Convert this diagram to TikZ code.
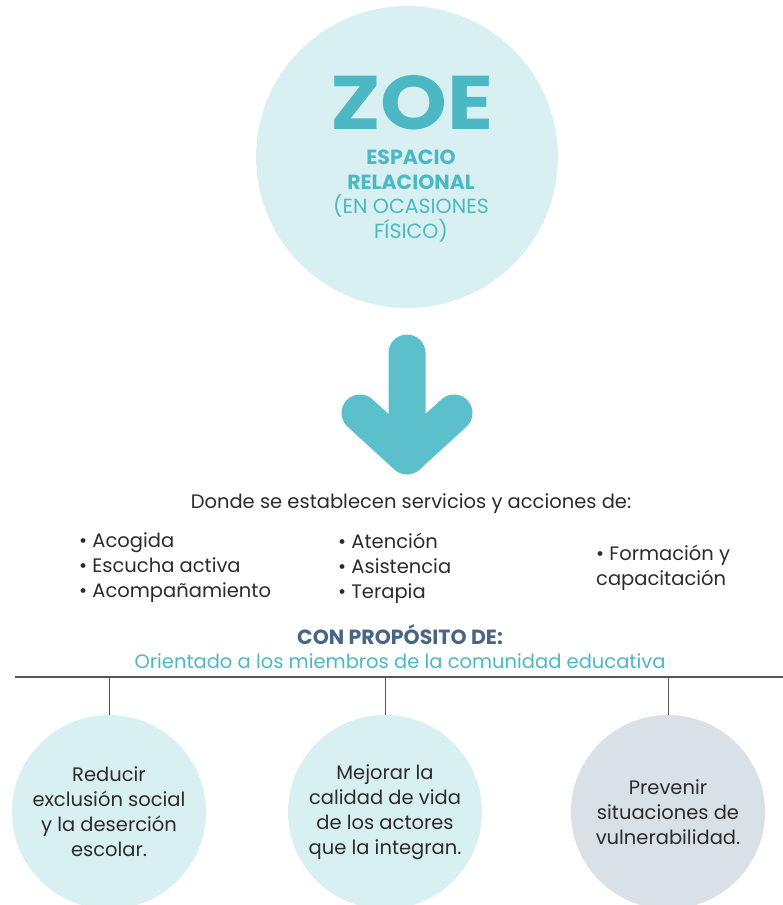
\documentclass[tikz,border=0pt]{standalone}
\usepackage{fontspec}
\setmainfont{Poppins}
\newfontfamily\zoefont[FakeStretch=1.12]{Poppins}
\definecolor{zoefill}{HTML}{D9F0F2}
\definecolor{zoeteal}{HTML}{4CB8C4}
\definecolor{arrowteal}{HTML}{5BBFCC}
\definecolor{slateblue}{HTML}{4A6584}
\definecolor{greyfill}{HTML}{D9E0E6}
\definecolor{linegrey}{HTML}{555555}
\definecolor{bodytext}{HTML}{2B2B2B}
\tikzset{
  goal/.style={circle, minimum size=194pt, inner sep=0pt, align=center, text=bodytext,
    font=\fontsize{19.5}{25}\selectfont},
  bullets/.style={anchor=west, align=left, text=bodytext, font=\fontsize{19.5}{25}\selectfont, inner sep=0pt}
}
\begin{document}
\begin{tikzpicture}[x=1pt,y=-1pt]
\useasboundingbox (0,0) rectangle (783,905);
\clip (0,0) rectangle (783,905);
% top circle
\node[circle, fill=zoefill, minimum size=302pt, inner sep=0pt] (zoe) at (407,157) {};
\node[text=zoeteal, inner sep=0pt, font=\zoefont\bfseries\fontsize{76}{76}\selectfont] (zoetitle) at (412,103) {ZOE};
\node[align=center, inner sep=0pt, text=zoeteal, font=\fontsize{20.5}{24.5}\selectfont] (espacio) at (411,196)
  {\textbf{ESPACIO}\\ \textbf{RELACIONAL}\\ (EN OCASIONES\\ FÍSICO)};
% arrow
\draw[arrowteal, line width=37pt, line cap=round, line join=round]
  (407,353)--(407,456) (360,413)--(407,456)--(454,413);
% services
\node[text=bodytext, font=\fontsize{19.5}{25}\selectfont] (donde) at (411,504) {Donde se establecen servicios y acciones de:};
\node[bullets] (col1) at (79,568) {• Acogida\\ • Escucha activa\\ • Acompañamiento};
\node[bullets] (col2) at (338,568) {• Atención\\ • Asistencia\\ • Terapia};
\node[bullets] (col3) at (596,568) {• Formación y\\ capacitación};
% purpose
\node[text=slateblue, font=\bfseries\fontsize{20.5}{22}\selectfont] (proposito) at (400,635) {CON PROPÓSITO DE:};
\node[text=zoeteal, font=\fontsize{19.5}{22}\selectfont] (orientado) at (400,661) {Orientado a los miembros de la comunidad educativa};
\coordinate (lineL) at (15,677);
\coordinate (lineR) at (783,677);
\draw[linegrey, line width=1.2pt] (lineL)--(lineR);
% goals
\node[goal, fill=zoefill] (reducir) at (109,812) {Reducir\\ exclusión social\\ y la deserción\\ escolar.};
\node[goal, fill=zoefill] (mejorar) at (385,812) {Mejorar la\\ calidad de vida\\ de los actores\\ que la integran.};
\node[goal, fill=greyfill] (prevenir) at (668,812) {Prevenir\\ situaciones de\\ vulnerabilidad.};
\foreach \g in {reducir,mejorar,prevenir}
  \draw[linegrey, line width=1pt] (\g.north |- lineL)--(\g.north);
\end{tikzpicture}
\end{document}
